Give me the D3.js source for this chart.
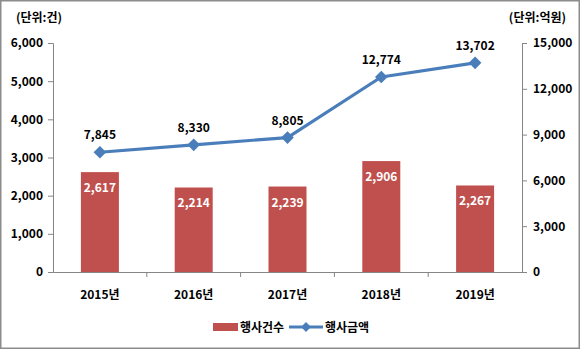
<!DOCTYPE html>
<html><head><meta charset="utf-8">
<script src="https://cdn.jsdelivr.net/npm/d3@7"></script>
<style>
body{margin:0;background:#fff;}
svg text{font-family:"Noto Sans CJK KR","Noto Sans",sans-serif;font-weight:bold;}
</style></head>
<body><svg id="c" width="580" height="350"></svg>
<script>
const categories = ["2015년","2016년","2017년","2018년","2019년"];
const eventCounts = [2617,2214,2239,2906,2267];
const eventAmounts = [7845,8330,8805,12774,13702];
const leftTicks = [0,1000,2000,3000,4000,5000,6000];
const rightTicks = [0,3000,6000,9000,12000,15000];
const barName = "행사건수", lineName = "행사금액";
const leftUnit = "(단위:건)", rightUnit = "(단위:억원)";

const svg = d3.select("#c");
const fmt = d3.format(",");
const barColor = "#C0504D", lineColor = "#4A7EBB", axisColor = "#868686";
const fs = 12;

svg.append("rect").attr("x",0.75).attr("y",0.75).attr("width",578.5).attr("height",347.5)
  .attr("fill","#fff").attr("stroke","#8c8c8c").attr("stroke-width",1.5);

const L = 53, R = 522, T = 43, B = 272;
const x = d3.scaleBand().domain(categories).range([L,R]);
const yL = d3.scaleLinear().domain([0,6000]).range([B,T]);
const yR = d3.scaleLinear().domain([0,15000]).range([B,T]);

const gl = svg.append("g").attr("transform",`translate(${L},0)`)
  .call(d3.axisLeft(yL).tickValues(leftTicks).tickFormat(fmt).tickSize(5).tickPadding(5));
const gr = svg.append("g").attr("transform",`translate(${R},0)`)
  .call(d3.axisRight(yR).tickValues(rightTicks).tickFormat(fmt).tickSize(5).tickPadding(6));
[gl,gr].forEach(g=>{
  g.selectAll("path,line").attr("stroke",axisColor);
  g.selectAll("text").attr("font-size",fs).attr("fill","#000");
});
const gb = svg.append("g").attr("transform",`translate(0,${B})`)
  .call(d3.axisBottom(x).tickSize(0).tickPadding(18));
gb.select(".domain").attr("stroke",axisColor);
gb.selectAll("text").attr("font-size",fs).attr("fill","#000");
const bounds = categories.map((c,i)=>x(c)).slice(1);
gb.selectAll(".sep").data(bounds).enter().append("line")
  .attr("x1",d=>d).attr("x2",d=>d).attr("y1",0).attr("y2",5).attr("stroke",axisColor);

svg.append("text").attr("x",16).attr("y",22).attr("font-size",fs).text(leftUnit);
svg.append("text").attr("x",566).attr("y",22).attr("text-anchor","end").attr("font-size",fs).text(rightUnit);

const bw = x.bandwidth()*0.405;
svg.selectAll(".bar").data(eventCounts).enter().append("rect")
  .attr("x",(d,i)=>x(categories[i])+x.bandwidth()/2-bw/2)
  .attr("y",d=>yL(d)).attr("width",bw).attr("height",d=>B-yL(d)).attr("fill",barColor);
svg.selectAll(".blab").data(eventCounts).enter().append("text")
  .attr("x",(d,i)=>x(categories[i])+x.bandwidth()/2).attr("y",d=>yL(d)+20)
  .attr("text-anchor","middle").attr("font-size",fs).attr("fill","#fff").text(fmt);

const cx = i=>x(categories[i])+x.bandwidth()/2;
svg.append("path").datum(eventAmounts)
  .attr("d",d3.line().x((d,i)=>cx(i)).y(d=>yR(d)))
  .attr("fill","none").attr("stroke",lineColor).attr("stroke-width",3.2).attr("stroke-linejoin","round");
svg.selectAll(".pt").data(eventAmounts).enter().append("path")
  .attr("d",d3.symbol(d3.symbolSquare,80)())
  .attr("transform",(d,i)=>`translate(${cx(i)},${yR(d)}) rotate(45)`).attr("fill",lineColor);
svg.selectAll(".llab").data(eventAmounts).enter().append("text")
  .attr("x",(d,i)=>cx(i)).attr("y",d=>yR(d)-13)
  .attr("text-anchor","middle").attr("font-size",fs).attr("fill","#000").text(fmt);

const lg = svg.append("g");
lg.append("rect").attr("x",213).attr("y",323).attr("width",25).attr("height",8).attr("fill",barColor);
lg.append("text").attr("x",240).attr("y",332).attr("font-size",fs).text(barName);
lg.append("line").attr("x1",289).attr("x2",323).attr("y1",327).attr("y2",327).attr("stroke",lineColor).attr("stroke-width",3);
lg.append("path").attr("d",d3.symbol(d3.symbolSquare,50)()).attr("transform","translate(306,327) rotate(45)").attr("fill",lineColor);
lg.append("text").attr("x",325).attr("y",332).attr("font-size",fs).text(lineName);
</script></body></html>
